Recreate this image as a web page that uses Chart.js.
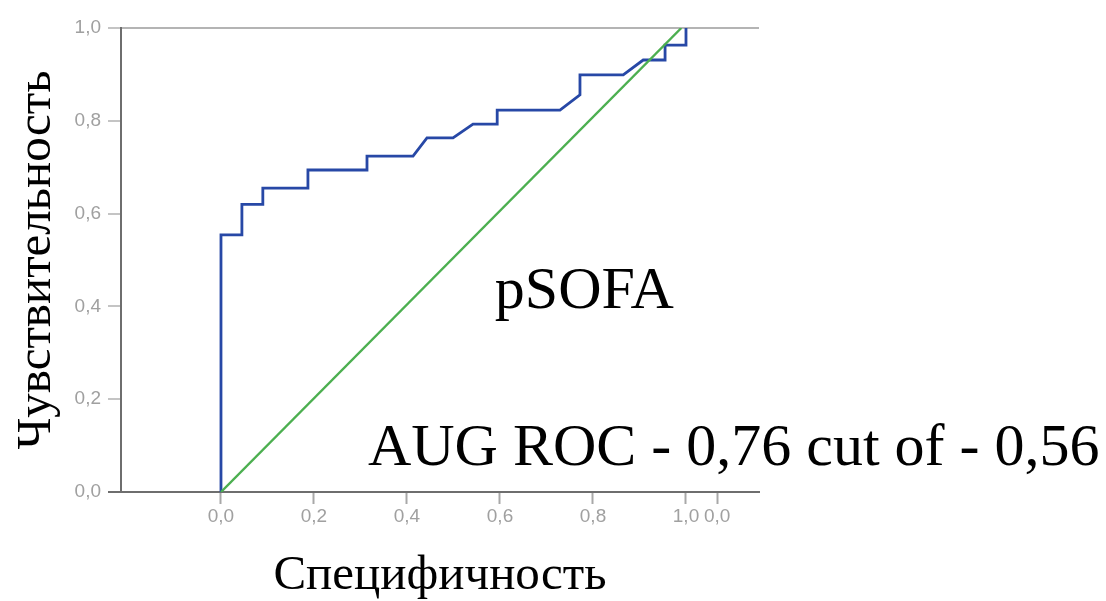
<!DOCTYPE html>
<html>
<head>
<meta charset="utf-8">
<script src="https://cdn.jsdelivr.net/npm/chart.js@4"></script>
<style>
    html, body { margin: 0; padding: 0; background: #fff; }
    #wrap { width: 1106px; height: 601px; }
</style>
</head>
<body>
<div id="wrap"><canvas id="roc"></canvas></div>
<script>
// ROC curve vertices (1 - specificity, sensitivity)
const rocX = [0, 0, 0.045, 0.045, 0.09, 0.09, 0.187, 0.187, 0.314, 0.314, 0.413, 0.443, 0.499, 0.542, 0.594, 0.594, 0.729, 0.772, 0.772, 0.865, 0.908, 0.955, 0.955, 1.0, 1.0];
const rocY = [0, 0.554, 0.554, 0.62, 0.62, 0.655, 0.655, 0.694, 0.694, 0.724, 0.724, 0.763, 0.763, 0.793, 0.793, 0.823, 0.823, 0.856, 0.899, 0.899, 0.931, 0.931, 0.963, 0.963, 1.0];

// reference diagonal
const refX = [0, 0.99];
const refY = [0, 1];

const xTickValues = [0, 0.2, 0.4, 0.6, 0.8, 1.0, 1.067];
const xTickLabels = ['0,0', '0,2', '0,4', '0,6', '0,8', '1,0', '0,0'];
const yTickValues = [0, 0.2, 0.4, 0.6, 0.8, 1.0];
const yTickLabels = ['0,0', '0,2', '0,4', '0,6', '0,8', '1,0'];

const xTitle = 'Специфичность';
const yTitle = 'Чувствительность';

const notes = [
    { text: 'pSOFA', x: 0.589, y: 0.397 },
    { text: 'AUG ROC - 0,76 cut of - 0,56', x: 0.316, y: 0.058 }
];

const toPoints = (xs, ys) => xs.map((x, i) => ({ x: x, y: ys[i] }));

const serif = "'Liberation Serif', 'DejaVu Serif', serif";
const tickFont = { family: "'Liberation Sans', 'DejaVu Sans', sans-serif", size: 19 };

const notesPlugin = {
    id: 'notes',
    afterDraw(chart) {
        const ctx = chart.ctx;
        const xs = chart.scales.x;
        const ys = chart.scales.y;
        ctx.save();
        ctx.fillStyle = '#000';
        ctx.font = '60px ' + serif;
        ctx.textBaseline = 'alphabetic';
        ctx.textAlign = 'left';
        notes.forEach(n => {
            ctx.fillText(n.text, xs.getPixelForValue(n.x), ys.getPixelForValue(n.y));
        });
        ctx.restore();
    }
};

new Chart(document.getElementById('roc'), {
    type: 'line',
    data: {
        datasets: [
            {
                data: toPoints(refX, refY),
                borderColor: '#4caf50',
                borderWidth: 2.4,
                pointRadius: 0,
                tension: 0
            },
            {
                data: toPoints(rocX, rocY),
                borderColor: '#2748a6',
                borderWidth: 2.8,
                pointRadius: 0,
                tension: 0
            }
        ]
    },
    options: {
        responsive: true,
        maintainAspectRatio: false,
        animation: false,
        events: [],
        layout: { padding: { left: 13, right: 347, top: 28, bottom: 0 } },
        plugins: {
            legend: { display: false },
            tooltip: { enabled: false }
        },
        scales: {
            x: {
                type: 'linear',
                min: -0.215,
                max: 1.157,
                afterBuildTicks: s => { s.ticks = xTickValues.map(v => ({ value: v })); },
                afterFit: s => { s.height = 109; },
                ticks: {
                    autoSkip: false,
                    maxRotation: 0,
                    padding: 1,
                    color: '#a0a0a0',
                    font: tickFont,
                    callback: (v, i) => xTickLabels[i]
                },
                grid: {
                    drawOnChartArea: false,
                    tickLength: 12,
                    tickColor: '#a8a8a8',
                    tickWidth: 2
                },
                border: { display: true, color: '#6e6e6e', width: 2 },
                title: {
                    display: true,
                    text: xTitle,
                    color: '#000',
                    padding: 0,
                    font: { family: serif, size: 49, lineHeight: 1 }
                }
            },
            y: {
                type: 'linear',
                min: 0,
                max: 1,
                afterBuildTicks: s => { s.ticks = yTickValues.map(v => ({ value: v })); },
                afterFit: s => { s.width = 108; },
                ticks: {
                    autoSkip: false,
                    padding: 7,
                    color: '#a0a0a0',
                    font: tickFont,
                    callback: (v, i) => yTickLabels[i]
                },
                grid: {
                    color: c => (c.tick && c.tick.value === 1) ? '#b4b4b4' : 'rgba(0,0,0,0)',
                    lineWidth: 2,
                    tickLength: 13,
                    tickColor: c => (c.tick && c.tick.value === 0) ? '#6e6e6e' : '#c4c4c4',
                    tickWidth: 2
                },
                border: { display: true, color: '#6e6e6e', width: 2 },
                title: {
                    display: true,
                    text: yTitle,
                    color: '#000',
                    padding: 0,
                    font: { family: serif, size: 49, lineHeight: 1 }
                }
            }
        }
    },
    plugins: [notesPlugin]
});
</script>
</body>
</html>
